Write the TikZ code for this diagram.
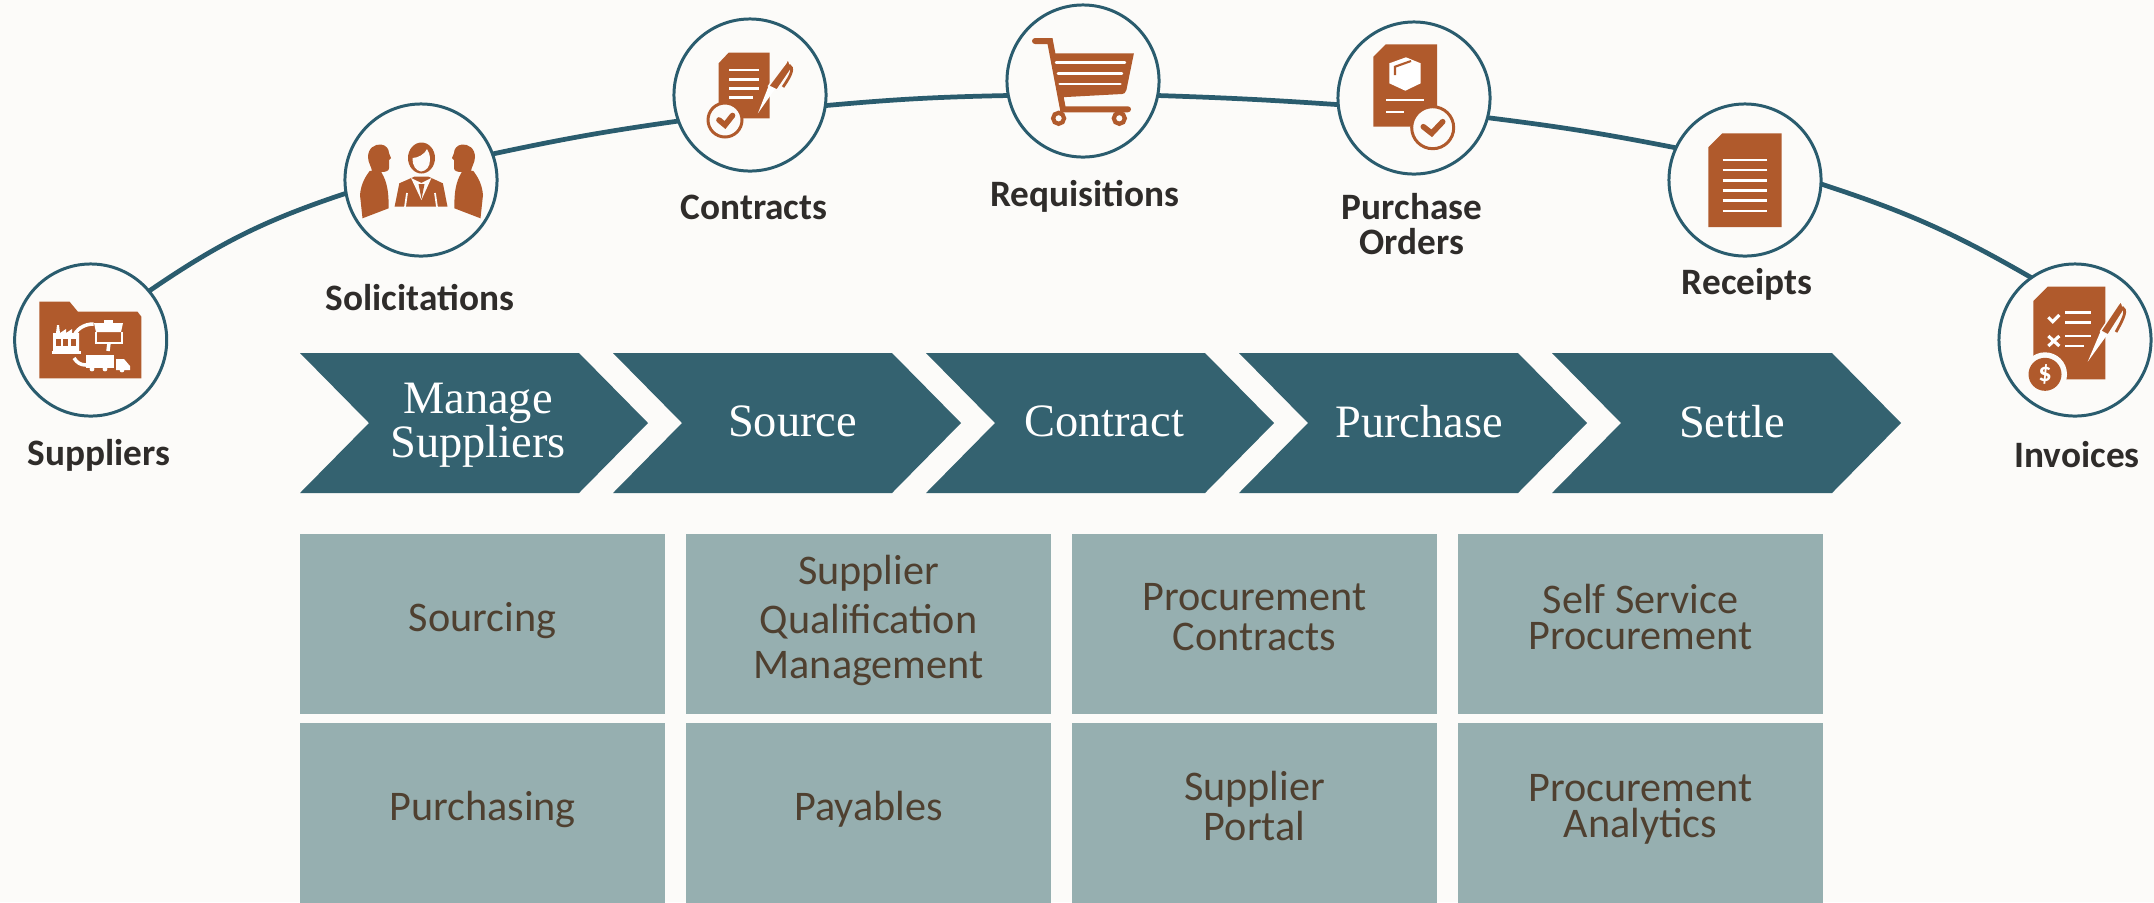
\documentclass[tikz,border=0pt]{standalone}
\usepackage{fontspec}
\setmainfont{Carlito}
\newfontfamily\chevfont{Liberation Serif}
\usetikzlibrary{positioning}
\definecolor{paper}{HTML}{FCFBF9}
\definecolor{teal}{HTML}{2A5C6E}
\definecolor{chev}{HTML}{346270}
\definecolor{cell}{HTML}{96AFB0}
\definecolor{rust}{HTML}{B05A2C}
\definecolor{ink}{HTML}{2F2C2A}
\definecolor{cellink}{HTML}{4F4030}
\tikzset{
    stop/.style={circle, draw=teal, line width=0.85pt, fill=paper, minimum size=1.52cm, inner sep=0pt, outer sep=0pt},
    stoplabel/.style={text=ink, font=\fontsize{10.6}{9.8}\selectfont\bfseries, align=center, inner sep=0pt},
    chevlabel/.style={text=white, font=\chevfont\fontsize{13.2}{12.5}\selectfont, align=center, inner sep=0pt},
    cellbox/.style={fill=cell, minimum width=3.65cm, minimum height=1.8cm, inner sep=0pt, outer sep=0pt, text=cellink, align=center, text depth=4pt, font=\fontsize{12}{10.2}\selectfont},
    rail/.style={draw=teal, line width=1.35pt},
    mark line/.style={draw=white, line width=0.7pt},
    rust line/.style={draw=rust, line width=1.6pt, line cap=round}
}
\begin{document}
\begin{tikzpicture}[x=0.01cm, y=-0.01cm]
    \useasboundingbox (0,0) rectangle (2154,902);
    \fill[paper] (0,0) rectangle (2154,902);

    % stops along the arc
    \node[stop](suppliers) at (90.7, 340) {};
    \node[stop](solicitations) at (421, 180) {};
    \node[stop](contracts) at (750, 95) {};
    \node[stop](requisitions) at (1083, 81) {};
    \node[stop](orders) at (1414, 98) {};
    \node[stop](receipts) at (1745, 180) {};
    \node[stop](invoices) at (2075, 340) {};

    \draw[rail] (suppliers.40) to[bend left=8] (solicitations.190);
    \draw[rail] (solicitations.20) to[bend left=2] (contracts.200);
    \draw[rail] (contracts.352) to[bend left=2] (requisitions.191);
    \draw[rail] (requisitions.349) to[bend left=1] (orders.185);
    \draw[rail] (orders.345) to[bend left=2] (receipts.155);
    \draw[rail] (receipts.357) to[bend left=6] (invoices.125);

    \node[stoplabel](l_suppliers) at (99, 455) {Suppliers};
    \node[stoplabel](l_solicitations) at (420, 298) {Solicitations};
    \node[stoplabel](l_contracts) at (754, 207) {Contracts};
    \node[stoplabel](l_requisitions) at (1085, 196) {Requisitions};
    \node[stoplabel](l_orders) at (1412, 224) {Purchase\\Orders};
    \node[stoplabel](l_receipts) at (1747, 284) {Receipts};
    \node[stoplabel](l_invoices) at (2077, 455) {Invoices};

    % folder icon
    \fill[rust] (39.3,301.7) -- (69.6,301.7) -- (77.9,311.7) -- (137.5,311.7) -- (141.4,316.7) -- (141.4,378.3) -- (39.3,378.3) -- cycle;
    \fill[white] (53,351) -- (53,333) -- (56,333) -- (57,325) -- (59,325) -- (60,333) -- (66,329) -- (66,333) -- (72,329) -- (72,333) -- (79,333) -- (79,351) -- cycle;
    \draw[white, line width=0.7pt] (51.5,352.5) -- (80.5,352.5);
    \fill[rust] (55.5,339) rectangle (60.5,346);
    \fill[rust] (63,339) rectangle (68,346);
    \fill[rust] (70.5,339) rectangle (75.5,346);
    \draw[white, line width=1pt] (73,338) .. controls (76,329) and (84,324) .. (93.6,324);
    \fill[white] (94,323) -- (123,323) -- (121,332) -- (96,332) -- cycle;
    \fill[white] (104,320) rectangle (113,323);
    \draw[white, line width=0.8pt] (96,332) -- (96,343) -- (122,343) -- (122,332);
    \draw[white, line width=1pt] (109,343) -- (108,351);
    \fill[white] (86,355) rectangle (114,368);
    \fill[white] (116,359) -- (124,359) -- (130,366) -- (130,370) -- (116,370) -- cycle;
    \draw[white, line width=1pt] (74,358) .. controls (77,363) and (81,365) .. (86,365);
    \fill[white] (92,369) circle (2.4);
    \fill[white] (105,369) circle (2.4);
    \fill[white] (122,370) circle (2.4);

    % people icon
    \fill[rust] (368,157) .. controls (368,148) and (375,144) .. (381,144.5) .. controls (386,145) and (389,149) .. (389,153) -- (391,158) -- (389,160) -- (389,168) .. controls (389,171) and (386,172) .. (381,172) -- (372,172) .. controls (372,167) and (368,163) .. (368,157) -- cycle;
    \fill[rust] (475,157) .. controls (475,148) and (468,144) .. (462,144.5) .. controls (457,145) and (454,149) .. (454,153) -- (452,158) -- (454,160) -- (454,168) .. controls (454,171) and (457,172) .. (462,172) -- (471,172) .. controls (471,167) and (475,163) .. (475,157) -- cycle;
    \fill[rust] (362.5,218.3) -- (360,195) .. controls (361,183) and (366,176) .. (369.6,171) -- (380,170) .. controls (385,178) and (389,186) .. (388.6,208.3) -- cycle;
    \fill[rust] (480.5,218.3) -- (483,195) .. controls (482,183) and (477,176) .. (473.4,171) -- (463,170) .. controls (458,178) and (454,186) .. (454.4,208.3) -- cycle;
    \fill[rust] (421.5,158) ellipse (13.5 and 15.5);
    \fill[paper] (412.5,158) .. controls (418,158) and (425,154) .. (427,149) .. controls (429,152) and (430,155) .. (430,160) .. controls (430,167) and (426,171) .. (421,171.5) .. controls (416,171) and (412,165) .. (412.5,158) -- cycle;
    \fill[rust] (394.6,206.7) -- (399.3,183.3) -- (414.3,176.7) -- (428.6,176.7) -- (442.9,183.3) -- (447.5,206.7) -- cycle;
    \fill[paper] (411,178) -- (421.4,200) -- (431.4,178) -- (421.4,183) -- cycle;
    \fill[rust] (418.5,184) -- (424.5,184) -- (421.5,199) -- cycle;
    \draw[paper, line width=0.5pt] (405,207) -- (407,193);
    \draw[paper, line width=0.5pt] (437,207) -- (435,193);

    % contract icon
    \fill[rust] (718.6,63.3) -- (728.6,52.7) -- (769.6,52.7) -- (769.6,118.3) -- (718.6,118.3) -- cycle;
    \draw[mark line] (729.3,70) -- (758.9,70);
    \draw[mark line] (729.3,79.3) -- (758.9,79.3);
    \draw[mark line] (729.3,88.3) -- (758.9,88.3);
    \draw[mark line] (729.3,97.7) -- (752.5,97.7);
    \fill[rust, draw=paper, line width=0.4pt] (768.6,86) -- (785.7,63.3) -- (788,59) -- (791.8,68.3) -- (777,90) -- cycle;
    \draw[rust, line width=0.8pt] (789,65) .. controls (794,68) and (792,74) .. (783,87);
    \fill[white] (757.9,113.3) -- (768.6,86) -- (775,89) -- cycle;
    \draw[rust, line width=0.85pt, fill=paper] (725,120) circle (17);
    \draw[rust line] (719,120) -- (725,125) -- (732.5,115.5);

    % cart icon
    \draw[rust, line width=1.7pt, line cap=round] (1035,41) -- (1050,41) -- (1063,109.3) -- (1128,109.3);
    \fill[rust] (1052.5,53.3) -- (1133.9,53.3) -- (1126.4,90) .. controls (1125.5,93) and (1124,94) .. (1122,94) -- (1060.7,97.3) -- cycle;
    \draw[mark line, line cap=round] (1056,62.7) -- (1125,62.7);
    \draw[mark line, line cap=round] (1057.9,73.3) -- (1122,73.3);
    \draw[mark line, line cap=round] (1059.6,84) -- (1120.4,84);
    \draw[rust, line width=1.2pt, fill=paper] (1058.6,118.3) circle (5.5);
    \draw[rust, line width=1.2pt, fill=paper] (1119.3,118.3) circle (5.5);

    % order icon
    \fill[rust] (1373.3,56.7) -- (1385.7,44.3) -- (1437,44.3) -- (1437,126.7) -- (1373.3,126.7) -- cycle;
    \fill[white] (1389.3,63.3) -- (1406,57.3) -- (1420.7,63.3) -- (1420.7,83.3) -- (1405.3,90.7) -- (1389.3,83.3) -- cycle;
    \draw[rust, line width=0.6pt] (1395,75) -- (1395,66.7) -- (1411,61);
    \draw[mark line] (1386,100) -- (1424,100);
    \draw[mark line] (1386,112) -- (1404,112);
    \draw[rust, line width=0.85pt, fill=paper] (1432.7,127.7) circle (21);
    \draw[rust line] (1423.3,126.7) -- (1431.7,133.3) -- (1442.7,121.7);

    % receipt icon
    \fill[rust] (1708.3,147.3) -- (1722.3,133.3) -- (1781.7,133.3) -- (1781.7,227) -- (1708.3,227) -- cycle;
    \draw[mark line] (1722.7,160) -- (1767,160);
    \draw[mark line] (1722.7,170) -- (1767,170);
    \draw[mark line] (1722.7,180.3) -- (1767,180.3);
    \draw[mark line] (1722.7,190.3) -- (1767,190.3);
    \draw[mark line] (1722.7,200.7) -- (1767,200.7);
    \draw[mark line] (1722.7,211) -- (1767,211);

    % invoice icon
    \fill[rust] (2033.3,301) -- (2047.7,286.7) -- (2105.3,286.7) -- (2105.3,379.3) -- (2033.3,379.3) -- cycle;
    \draw[white, line width=0.9pt] (2048.3,317.3) -- (2052.7,321.7) -- (2059.3,315);
    \draw[mark line] (2065,312.3) -- (2091,312.3);
    \draw[mark line] (2065,322.7) -- (2091,322.7);
    \draw[mark line] (2065,336) -- (2091,336);
    \draw[mark line] (2065,346) -- (2084,346);
    \draw[white, line width=0.9pt] (2048.3,336) -- (2059.3,346);
    \draw[white, line width=0.9pt] (2048.3,346) -- (2059.3,336);
    \fill[rust, draw=paper, line width=0.4pt] (2100.7,331) -- (2118,305) -- (2121,301) -- (2124,310) -- (2108,335) -- cycle;
    \draw[rust, line width=0.8pt] (2122,307) .. controls (2127,310) and (2125,316) .. (2116,332);
    \fill[white] (2087.7,361.7) -- (2100.7,331) -- (2107,335) -- cycle;
    \fill[paper] (2045,374.3) circle (22);
    \node[circle, fill=rust, minimum size=0.33cm, inner sep=0pt, text=white, font=\fontsize{7.5}{8}\selectfont\bfseries](dollar) at (2045,374.3) {\$};

    % chevrons
    \fill[chev] (300,353) -- (579,353) -- (648,423) -- (579,493) -- (300,493) -- (369,423) -- cycle;
    \fill[chev] (613,353) -- (892,353) -- (961,423) -- (892,493) -- (613,493) -- (682,423) -- cycle;
    \fill[chev] (926,353) -- (1205,353) -- (1274,423) -- (1205,493) -- (926,493) -- (995,423) -- cycle;
    \fill[chev] (1239,353) -- (1518,353) -- (1587,423) -- (1518,493) -- (1239,493) -- (1308,423) -- cycle;
    \fill[chev] (1552,353) -- (1832,353) -- (1901,423) -- (1832,493) -- (1552,493) -- (1621,423) -- cycle;

    \node[chevlabel](c_manage) at (478, 425) {Manage\\Suppliers};
    \node[chevlabel](c_source) at (792.6, 421.5) {Source};
    \node[chevlabel](c_contract) at (1104, 421.5) {Contract};
    \node[chevlabel](c_purchase) at (1419, 421.5) {Purchase};
    \node[chevlabel](c_settle) at (1732, 421.5) {Settle};

    % product cells
    \node[cellbox](sourcing) at (482.5, 624) {Sourcing};
    \node[cellbox](qualification) at (868.5, 624) {Supplier\\[2.7pt]Qualification\\[2.7pt]Management};
    \node[cellbox](procurement) at (1254.5, 624) {Procurement\\[1.2pt]Contracts};
    \node[cellbox](selfservice) at (1640.5, 624) {Self Service\\Procurement};
    \node[cellbox](purchasing) at (482.5, 813) {Purchasing};
    \node[cellbox](payables) at (868.5, 813) {Payables};
    \node[cellbox](portal) at (1254.5, 813) {Supplier\\Portal};
    \node[cellbox](analytics) at (1640.5, 813) {Procurement\\Analytics};
\end{tikzpicture}
\end{document}
